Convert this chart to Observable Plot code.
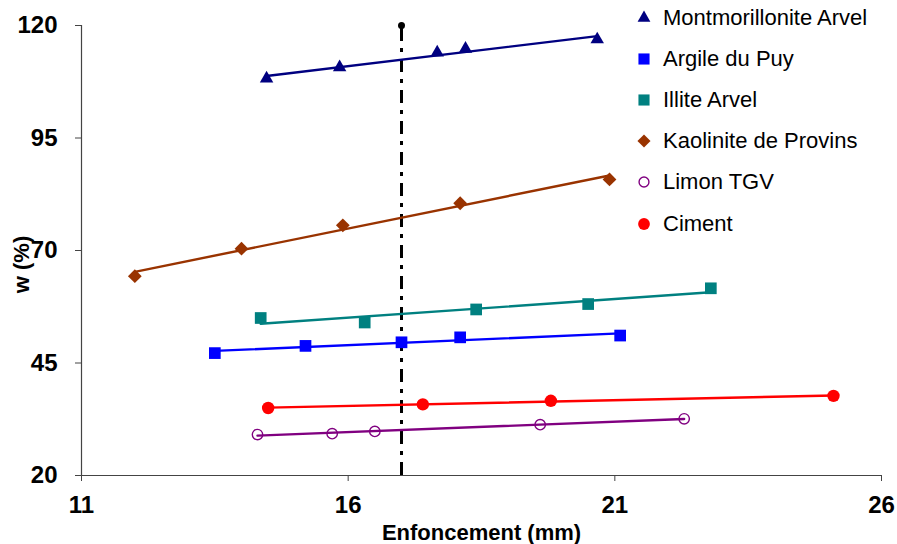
<!DOCTYPE html>
<html>
<head>
<meta charset="utf-8">
<script src="https://cdn.jsdelivr.net/npm/d3@7"></script>
<script src="https://cdn.jsdelivr.net/npm/@observablehq/plot@0.6"></script>
<style>
  html, body { margin: 0; padding: 0; background: #fff; }
  #wrap { position: relative; width: 897px; height: 544px; }
  #legend { position: absolute; left: 635px; top: -3px; font-family: "Liberation Sans", Arial, sans-serif; font-size: 22px; color: #000; }
  .item { display: flex; align-items: center; height: 41.2px; }
  .item svg { width: 18px; height: 18px; margin-right: 10px; overflow: visible; }
</style>
</head>
<body>
<div id="wrap"><div id="legend"></div></div>
<script>
// ---- data ----
const seriesNames = ["Montmorillonite Arvel", "Argile du Puy", "Illite Arvel", "Kaolinite de Provins", "Limon TGV", "Ciment"];

const montmorilloniteX = [14.47, 15.84, 17.67, 18.2, 20.67];
const montmorilloniteY = [108.2, 110.7, 114.0, 114.8, 116.9];

const argileX = [13.5, 15.2, 17.0, 18.1, 21.1];
const argileY = [47.2, 48.8, 49.6, 50.7, 51.1];

const illiteX = [14.36, 16.31, 18.4, 20.5, 22.8];
const illiteY = [55.0, 54.0, 56.9, 58.1, 61.6];

const kaoliniteX = [12.0, 14.0, 15.9, 18.1, 20.9];
const kaoliniteY = [64.3, 70.4, 75.6, 80.5, 85.8];

const limonX = [14.3, 15.7, 16.5, 19.6, 22.3];
const limonY = [29.1, 29.3, 29.8, 31.3, 32.6];

const cimentX = [14.5, 17.4, 19.8, 25.1];
const cimentY = [35.0, 35.8, 36.6, 37.7];

const verticalLineX = [17];
const xTicks = [11, 16, 21, 26];
const yTicks = [20, 45, 70, 95, 120];
const xDomain = [11, 26];
const yDomain = [20, 120];

// ---- styles ----
const seriesStyle = [
  {symbol: "triangle", color: "#000080", fill: "#000080", r: 5.0},
  {symbol: "square",   color: "#0000FF", fill: "#0000FF", r: 6.6},
  {symbol: "square",   color: "#008080", fill: "#008080", r: 6.6},
  {symbol: "diamond2", color: "#993300", fill: "#993300", r: 6.2},
  {symbol: "circle",   color: "#800080", fill: "none",    r: 5.2},
  {symbol: "circle",   color: "#FF0000", fill: "#FF0000", r: 6.2}
];
const xs = [montmorilloniteX, argileX, illiteX, kaoliniteX, limonX, cimentX];
const ys = [montmorilloniteY, argileY, illiteY, kaoliniteY, limonY, cimentY];

const marks = [];
const axisFont = "'Liberation Sans', Arial, sans-serif";

// dash-dot vertical line
marks.push(Plot.ruleX(verticalLineX, {y1: yDomain[0], y2: yDomain[1], stroke: "#000", strokeWidth: 3, strokeDasharray: "13,7,4,7"}));
marks.push(Plot.dot(verticalLineX, {x: d => d, y: () => yDomain[1], r: 3.5, fill: "#000"}));

xs.forEach((xArr, i) => {
  const data = xArr.map((x, j) => ({x, y: ys[i][j]}));
  const s = seriesStyle[i];
  marks.push(Plot.linearRegressionY(data, {x: "x", y: "y", stroke: s.color, strokeWidth: 2.4, ci: 0}));
  marks.push(Plot.dot(data, {x: "x", y: "y", symbol: () => s.symbol, r: s.r, fill: s.fill, stroke: s.fill === "none" ? s.color : "none", strokeWidth: 1.4}));
});

// axes lines
marks.push(Plot.ruleY([yDomain[0]], {stroke: "#444", strokeWidth: 1.2}));
marks.push(Plot.ruleX([xDomain[0]], {stroke: "#444", strokeWidth: 1.2}));
marks.push(Plot.axisX({ticks: xTicks, tickSize: 6, tickPadding: 14, stroke: "#444", fontSize: 24, fontWeight: "bold", label: null}));
marks.push(Plot.axisY({ticks: yTicks, tickSize: 6, tickPadding: 18, stroke: "#444", fontSize: 24, fontWeight: "bold", label: null}));
marks.push(Plot.text(["Enfoncement (mm)"], {frameAnchor: "bottom", lineAnchor: "middle", dy: 57, fontSize: 22, fontWeight: "bold"}));
marks.push(Plot.text(["w (%)"], {frameAnchor: "left", textAnchor: "middle", lineAnchor: "middle", rotate: -90, dx: -60, dy: 14, fontSize: 22, fontWeight: "bold"}));

const chart = Plot.plot({
  width: 897,
  height: 544,
  marginLeft: 81,
  marginRight: 16,
  marginTop: 25,
  marginBottom: 69,
  style: {fontFamily: axisFont, background: "#fff", color: "#000", overflow: "visible"},
  x: {domain: xDomain, ticks: xTicks},
  y: {domain: yDomain, ticks: yTicks},
  marks
});
document.getElementById("wrap").prepend(chart);

// legend
const legend = document.getElementById("legend");
seriesNames.forEach((name, i) => {
  const s = seriesStyle[i];
  const item = document.createElement("div");
  item.className = "item";
  const sym = d3.symbol().type({
    triangle: d3.symbolTriangle, square: d3.symbolSquare, diamond2: d3.symbolDiamond2, circle: d3.symbolCircle
  }[s.symbol]).size(Math.PI * (s.r * 0.95) ** 2)();
  item.innerHTML = `<svg viewBox="-9 -9 18 18"><path d="${sym}" fill="${s.fill}" stroke="${s.fill === "none" ? s.color : "none"}" stroke-width="1.4"/></svg><span>${name}</span>`;
  legend.appendChild(item);
});
</script>
</body>
</html>
